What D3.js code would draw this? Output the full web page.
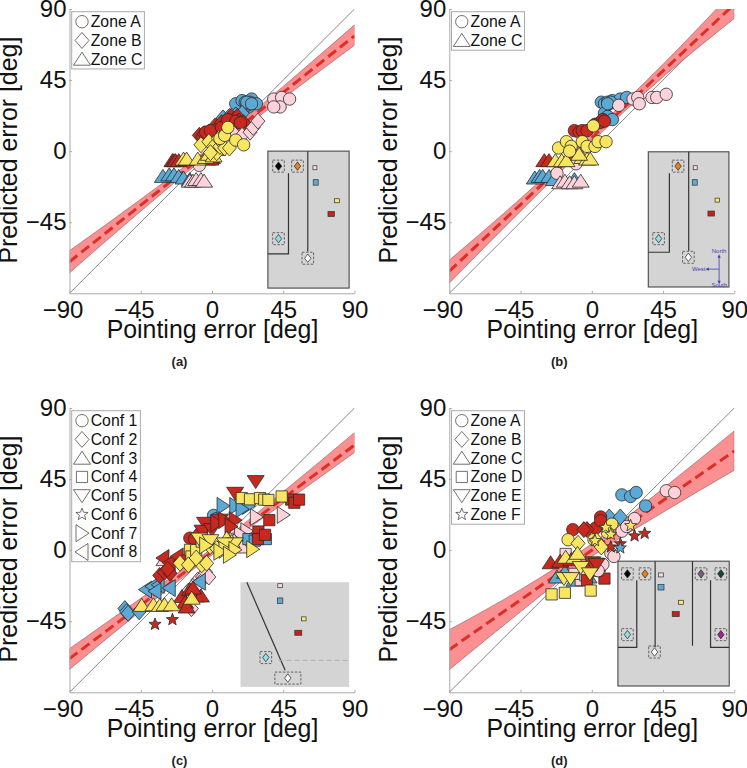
<!DOCTYPE html>
<html><head><meta charset="utf-8">
<script src="https://cdn.jsdelivr.net/npm/d3@7/dist/d3.min.js"></script>
<style>html,body{margin:0;padding:0;background:#fff}svg{display:block}text{font-family:"Liberation Sans",Arial,sans-serif}</style>
</head><body><div id="c"></div><script>
const xTickValues=[-90,-45,0,45,90], yTickValues=[-45,0,45,90];
const xLabel="Pointing error [deg]", yLabel="Predicted error [deg]";
const zoneNames3=["Zone A","Zone B","Zone C"], zoneNames2=["Zone A","Zone C"];
const confNames=["Conf 1","Conf 2","Conf 3","Conf 4","Conf 5","Conf 6","Conf 7","Conf 8"];
const zoneNames6=["Zone A","Zone B","Zone C","Zone D","Zone E","Zone F"];
const bandX=[-90,-45,0,45,90];

// Panel (a)
const aFitY=[-70,-34.2,1.5,37.2,73], aLow=[-77,-38,-0.5,33.5,67], aHigh=[-63,-30.5,3.5,41,80];
const aBlueCircle=[[15,30],[19,32],[25,33],[28,30],[23,28],[21,31],[24,30],[22,29],[23,30],[24,31],[22,31],[25,30]];
const aBlueDiamond=[[7,21],[11,22],[15,23],[19,24]];
const aBlueTri=[[-31,-16],[-27,-15],[-24,-15],[-21,-16],[-18,-17],[-14,-18]];
const aRedTri=[[-25,-6],[-24,-6],[-23,-6],[-21,-6],[-3,-5],[0,-4],[-1,-5]];
const aRedDiamond=[[-8,10],[-6,9],[-5,11],[-2,12],[2,16],[3,14],[6,18],[8,17],[11,19],[12,22],[14,20],[16,22],[17,19],[20,18]];
const aRedCircle=[[-4,12],[-1,13],[6,15],[10,20],[15,19],[18,18]];
const aPinkCircle=[[-8,-9],[39,33],[44,34],[49,33],[43,28],[39,28]];
const aPinkTri=[[-14,-19],[-12,-19],[-10,-18],[-7,-18],[-5,-19]];
const aPinkDiamond=[[14,11],[19,10],[24,12],[26,15],[29,19]];
const aYellowDiamond=[[-7,4],[-2,6],[1,3],[3,-1],[5,3],[8,2],[11,2],[-1,-1],[4,8]];
const aYellowTri=[[-18,-5],[-16,-5],[-9,-5],[-4,-4],[-2,-2],[1,-3],[3,1]];
const aYellowCircle=[[5,8],[8,10],[10,15],[15,7],[20,4]];

// Panel (b)
const bFitY=[-76,-33.8,8.5,50.8,93], bLow=[-83.5,-38,6,47,84], bHigh=[-69,-30,11.5,55,102];
const bBlueCircle=[[6,31],[8,30],[10,31],[13,32],[18,33],[22,34],[8,24],[10,22],[13,20],[11,30],[12,31],[10,30]];
const bBlueTri=[[-36,-17],[-33,-16],[-31,-16],[-27,-16],[-24,-18],[-11,-18]];
const bRedCircle=[[-11,13],[-8,12],[-6,13],[-3,13],[2,17],[5,18],[7,20],[8,19]];
const bRedTri=[[-30,-6],[-27,-6]];
const bPinkCircle=[[-22,-14],[-10,-8],[17,29],[26,33],[29,34],[30,30],[38,34],[41,34],[47,36]];
const bPinkTri=[[-20,-20],[-17,-19],[-14,-20],[-11,-20],[-7,-19]];
const bYellowCircle=[[-21,2],[-16,6],[-13,3],[-6,6],[-3,3],[2,3],[4,6],[9,6],[1,16],[-14,0]];
const bYellowTri=[[-23,-6],[-19,-6],[-16,-6],[-6,-4],[-3,-5],[-1,-5],[-8,-2]];

// Panel (c)
const cFitY=[-68.7,-34.8,-1,32.8,66.6], cLow=[-75.5,-38.5,-3,29.5,61.8], cHigh=[-62.4,-30.5,1,37,74.4];
const cBlueCircle=[[1,22],[3,20]];
const cBlueDiamond=[[-55,-37],[-54,-39],[-53,-40],[-46,-39]];
const cBlueLeft=[[-42,-25],[-38,-23],[-34,-22],[-36,-26],[-27,-24],[-8,-20]];
const cBlueRight=[[7,28],[15,28],[23,28],[19,26]];
const cBlueSquare=[[23,7],[27,6],[34,7]];
const cRedDiamond=[[-33,-16],[-30,-14],[-26.5,-14.6],[-28,-12]];
const cRedLeft=[[-31,-5],[-27,-8],[-22,-4],[-20,-7]];
const cRedCircle=[[-14,7.6],[-11,7],[-6.5,11.8],[-8,10]];
const cRedDown=[[27.6,43.4],[14.6,36],[-4.4,17],[5,19],[-6,12],[0,13]];
const cRedRight=[[3,17],[8,19],[14.6,19],[12,15]];
const cRedTri=[[-19,-29.4],[-17,-33],[-14,-25],[-10,-29],[-7,-29],[-16,-36],[-12,-24]];
const cRedSquare=[[29.3,11.8],[29,7],[33.5,9.7],[36.2,19],[50,32],[52,30],[55,32]];
const cRedStar=[[-36,-47],[-25,-44]];
const cPink=[[-15,-26],[-9,-19],[-6,-17],[-12,-23],[-4,-14],[-13,-37],[-8,-21],[-2,-17]];
const cPinkRight=[[28,21],[45,22.3],[22,12],[18,10],[15,6]];
const cPinkTri=[[10,3],[14,6],[19,2],[-30,-6]];
const cYellowSquare=[[18.8,33],[24,32.2],[30.3,33],[33,32],[35.6,31.8],[44,34],[-13.9,0.2],[-13,-4],[-10,0],[-6.5,5.4]];
const cYellowTri=[[-44.4,-35],[-37,-34.6],[-33,-35],[-30,-34.6],[-25.5,-34.6],[-12.8,-30.4],[12.4,5.4],[5,3.3],[9.3,7.6]];
const cYellowDiamond=[[-20.2,-8.3],[-14.9,-9.3],[-6.5,-9.3],[-3.4,-8.3],[-1.2,2.3],[-10,-5],[3,1]];
const cYellowDown=[[-8,7],[-1,6],[14.5,4],[8.2,4]];
const cYellowRight=[[25.7,0.6],[8.2,0.2],[14.5,0.2],[5,-1],[-4,3],[11,-3]];

// Panel (d)
const dFitY=[-63,-31.5,0,31.5,62.8], dLow=[-75.7,-39,-4,24,50.6], dHigh=[-50.4,-25,4,39,75.5];
const dBlueCircle=[[19,35],[24.5,34],[28,36.5],[34,28]];
const dBlueDiamond=[[11,21],[18,21],[7,16]];
const dBlueTri=[[-22,-17],[-17,-14],[-11,-19],[-2,-17]];
const dRedTri=[[-26,-8],[-20,-7],[-13,-6]];
const dRedSquare=[[8,-18],[-3,-19],[3,-13],[0,-9],[5,-10]];
const dRedCircle=[[5.6,21],[-12,13],[-4,13],[2.4,14],[5.6,18.6]];
const dRedDiamond=[[-3,13],[-5,13]];
const dRedDown=[[0.3,-8],[3,-9]];
const dRedStar=[[27,9],[33.4,10.6],[18,4],[12,2]];
const dBlueStar=[[18,1.4]];
const dPink=[[7,-9],[12,-2],[27,20],[19,12],[22,15],[47,37.6],[4,-13],[14,-4]];
const dPinkSquare=[[-16.5,-2.4],[-7,-19],[-11,-15],[-4,-16]];
const dPinkCircle2=[[52.3,36.5]];
const dYellowCircle=[[-15,6.6],[12.7,16.5],[1.4,6.6],[9.8,11.3]];
const dYellowDiamond=[[-8.7,4.3],[3,6],[6,2]];
const dYellowTri=[[-16.5,-4.5],[-11,-4.5],[-9,-2]];
const dYellowDown=[[-17.6,-18],[-13.4,-18],[-7,-11],[-1.2,-15]];
const dYellowSquare=[[-25.4,-28],[-17,-27],[-0.7,-25.6]];
const dYellowStar=[[24.5,15.5],[8.7,14.4],[12,10],[2,6]];

// Insets, in the same degree units as the axes
const insetA={room:[35.3,0,86.6,-86.7],walls:[[[60.5,0],[60.5,-63.6]],[[48.3,-14],[48.3,-65],[35.3,-65]]],
 diamonds:[[42,-9.5,"#000"],[54,-9.5,"#e8801a"],[42,-55.4,"#8fdfe6"],[60.5,-67.8,"#fff"]],
 squares:[[65,-10.5,"#fcd9df",4,4],[65.5,-19.8,"#5da9d6",5,5.5],[79,-31.4,"#f8e870",5,4],[75.3,-39.8,"#c8201a",6.5,5]]};
const insetB={room:[35.7,-0.4,86.6,-86],walls:[[[61.2,-0.4],[61.2,-63]],[[49,-14],[49,-64],[35.7,-64]]],
 diamonds:[[54.5,-9.5,"#e8801a"],[42.2,-55.4,"#8fdfe6"],[61,-67.2,"#fff"]],
 squares:[[65.3,-10.5,"#fcd9df",4,4],[65,-19.8,"#5da9d6",5,5.5],[79.3,-31,"#f8e870",4.5,4],[75.4,-39.5,"#c8201a",6.5,5]]};
const insetC={room:[18,-20.3,86.6,-86.6],walls:[[[22,-20.3],[46.2,-76]]],
 diamonds:[[34,-68,"#8fdfe6"],[47.9,-81,"#fff"]],
 squares:[[43,-22.5,"#fcd9df",4.5,4],[43,-32,"#5da9d6",5.5,5.5],[58,-43.5,"#f8e870",4.5,4],[54.5,-52.3,"#c8201a",7,5]]};
const insetD={room:[16.5,-7,86.8,-86],walls:[[[40,-7],[40,-61.5]],[[63.6,-7],[63.6,-60.5]],[[28.4,-19],[28.4,-61.5],[16.5,-61.5]],[[75,-19],[75,-61.5],[86.8,-61.5]]],
 diamonds:[[22.5,-15,"#000"],[33.6,-15,"#e8801a"],[69,-15,"#7f5a80"],[81.5,-15,"#12492f"],[22.5,-53.5,"#8fdfe6"],[81.5,-53.5,"#a6208a"],[39.6,-64.5,"#fff"]],
 squares:[[43.7,-15.7,"#fcd9df",5,4],[43.7,-23.5,"#5da9d6",6,5.5],[56.3,-33,"#f8e870",5,4],[53,-40.5,"#c8201a",7,5]]};

const colors={red:"#c8281e",blue:"#5da9d6",yellow:"#f9e660",pink:"#fcd3da"};
const poly=p=>({draw(c){c.moveTo(p[0][0],p[0][1]);p.slice(1).forEach(q=>c.lineTo(q[0],q[1]));c.closePath();}});
const star=(()=>{const p=[];for(let i=0;i<10;i++){const r=i%2?2.7:6.4,a=-Math.PI/2+i*Math.PI/5;p.push([r*Math.cos(a),r*Math.sin(a)]);}return poly(p);})();
const shapes={
 circle:{draw(c){c.moveTo(6.2,0);c.arc(0,0,6.2,0,2*Math.PI);}},
 diamond:poly([[0,-8],[7,0],[0,8],[-7,0]]),
 up:poly([[0,-7],[8.5,6],[-8.5,6]]),
 square:poly([[-5.6,-5.6],[5.6,-5.6],[5.6,5.6],[-5.6,5.6]]),
 down:poly([[0,7],[8.5,-6],[-8.5,-6]]),
 star,
 right:poly([[7,0],[-6,8.5],[-6,-8.5]]),
 left:poly([[-7,0],[6,8.5],[6,-8.5]])
};
const sym=s=>d3.symbol().type(shapes[s])();
const smallDiamond=poly([[0,-4.2],[3.2,0],[0,4.2],[-3.2,0]]);

const panels=[
 {cap:"(a)",ox:69.5,oy:9,fit:aFitY,low:aLow,high:aHigh,legend:["circle","diamond","up"],names:zoneNames3,lw:72.7,inset:insetA,series:[
  ["circle","blue",aBlueCircle],["diamond","blue",aBlueDiamond],["up","blue",aBlueTri],["up","pink",aPinkTri],["up","red",aRedTri],["diamond","red",aRedDiamond],["circle","red",aRedCircle],["circle","pink",aPinkCircle],["diamond","pink",aPinkDiamond],["up","yellow",aYellowTri],["diamond","yellow",aYellowDiamond],["circle","yellow",aYellowCircle]]},
 {cap:"(b)",ox:449.3,oy:9,fit:bFitY,low:bLow,high:bHigh,legend:["circle","up"],names:zoneNames2,lw:73,inset:insetB,compass:true,series:[
  ["circle","blue",bBlueCircle],["up","blue",bBlueTri],["up","red",bRedTri],["circle","red",bRedCircle],["circle","pink",bPinkCircle],["up","pink",bPinkTri],["up","yellow",bYellowTri],["circle","yellow",bYellowCircle]]},
 {cap:"(c)",ox:69.5,oy:408,fit:cFitY,low:cLow,high:cHigh,legend:["circle","diamond","up","square","down","star","right","left"],names:confNames,lw:68.7,inset:insetC,plainRoom:true,series:[
  ["diamond","pink",cPink],["right","pink",cPinkRight],["up","pink",cPinkTri],["circle","blue",cBlueCircle],["diamond","blue",cBlueDiamond],["left","blue",cBlueLeft],["right","blue",cBlueRight],["square","blue",cBlueSquare],["circle","red",cRedCircle],["left","red",cRedLeft],["diamond","red",cRedDiamond],["down","red",cRedDown],["right","red",cRedRight],["up","red",cRedTri],["square","red",cRedSquare],["star","red",cRedStar],["square","yellow",cYellowSquare],["up","yellow",cYellowTri],["diamond","yellow",cYellowDiamond],["down","yellow",cYellowDown],["right","yellow",cYellowRight]]},
 {cap:"(d)",ox:449.3,oy:408,fit:dFitY,low:dLow,high:dHigh,legend:["circle","diamond","up","square","down","star"],names:zoneNames6,lw:73,inset:insetD,series:[
  ["up","blue",dBlueTri],["square","pink",dPinkSquare],["square","red",dRedSquare],["circle","pink",dPink],["circle","pink",dPinkCircle2],["circle","blue",dBlueCircle],["diamond","blue",dBlueDiamond],["up","red",dRedTri],["circle","red",dRedCircle],["diamond","red",dRedDiamond],["down","red",dRedDown],["star","red",dRedStar],["star","blue",dBlueStar],["circle","yellow",dYellowCircle],["diamond","yellow",dYellowDiamond],["up","yellow",dYellowTri],["down","yellow",dYellowDown],["square","yellow",dYellowSquare],["star","yellow",dYellowStar]]}
];
const W=285,H=284.3;
const svg=d3.select("#c").append("svg").attr("width",747).attr("height",768);
const fmt=d=>d<0?"\u2212"+Math.abs(d):""+d;

panels.forEach((p,pi)=>{
 const x=d3.scaleLinear().domain([-90,90]).range([0,W]);
 const y=d3.scaleLinear().domain([-90,90]).range([H,0]);
 const g=svg.append("g").attr("transform",`translate(${p.ox},${p.oy})`);
 const cid="clip"+pi;
 g.append("clipPath").attr("id",cid).append("rect").attr("width",W).attr("height",H);
 const plot=g.append("g").attr("clip-path",`url(#${cid})`);
 plot.append("line").attr("x1",x(-90)).attr("y1",y(-90)).attr("x2",x(90)).attr("y2",y(90)).attr("stroke","#555").attr("stroke-width",0.7);
 const area=d3.area().x((d,i)=>x(bandX[i])).y0((d,i)=>y(p.low[i])).y1((d,i)=>y(p.high[i])).curve(d3.curveMonotoneX);
 plot.append("path").attr("d",area(bandX)).attr("fill","#fa9092").attr("stroke","#a86465").attr("stroke-width",0.7);

 const marks=g.append("g");
 p.series.forEach(([s,c,pts])=>{
  marks.selectAll(null).data(pts).join("path").attr("d",sym(s))
   .attr("transform",d=>`translate(${x(d[0])},${y(d[1])})`)
   .attr("fill",colors[c]).attr("stroke","#2a2a2a").attr("stroke-width",0.8);
 });
 const line=d3.line().x((d,i)=>x(bandX[i])).y(d=>y(d));
 plot.append("path").attr("d",line(p.fit)).attr("fill","none").attr("stroke","#dc2f26").attr("stroke-width",3).attr("stroke-dasharray","10 5");

 // axes
 const xa=g.append("g").attr("transform",`translate(0,${H})`).call(d3.axisBottom(x).tickValues(xTickValues).tickFormat(fmt).tickSizeInner(-2.5).tickSizeOuter(0).tickPadding(7.7));
 const ya=g.append("g").call(d3.axisLeft(y).tickValues(yTickValues).tickFormat(fmt).tickSizeInner(-2.5).tickSizeOuter(0).tickPadding(3));
 [xa,ya].forEach(a=>{a.selectAll("path,line").attr("stroke","#aaa");a.selectAll("text").attr("fill","#111").attr("font-size",24).attr("font-family",'"Liberation Sans",Arial,sans-serif');});
 xa.selectAll("text").attr("dx",d=>d<0?-7:0);
 g.append("text").attr("x",W/2+.5).attr("y",H+44.5).attr("text-anchor","middle").attr("font-size",24.9).attr("fill","#111").text(xLabel);
 g.append("text").attr("transform",`translate(${-52.5},${H/2-1}) rotate(-90)`).attr("text-anchor","middle").attr("font-size",24.9).attr("fill","#111").text(yLabel);
 g.append("text").attr("x",110).attr("y",H+72.5).attr("text-anchor","middle").attr("font-size",13).attr("font-weight","bold").attr("fill","#222").text(p.cap);

 // inset
 const ins=g.append("g"), I=p.inset;
 const r=I.room;
 ins.append("rect").attr("x",x(r[0])).attr("y",y(r[1])).attr("width",x(r[2])-x(r[0])).attr("height",y(r[3])-y(r[1]))
  .attr("fill","#d4d4d4").attr("stroke",p.plainRoom?"none":"#555").attr("stroke-width",1.2);
 const wall=d3.line().x(d=>x(d[0])).y(d=>y(d[1]));
 ins.selectAll(null).data(I.walls).join("path").attr("d",wall).attr("fill","none").attr("stroke","#333").attr("stroke-width",1.2);
 if(p.plainRoom){ins.append("path").attr("d",wall([[42,-69.8],[85.8,-69.8]])).attr("fill","none").attr("stroke","#a8a8a8").attr("stroke-dasharray","5 3").attr("stroke-width",0.9);}
 I.diamonds.forEach((d,i)=>{
  const wide=p.plainRoom&&i===1;
  ins.append("rect").attr("x",x(d[0])-(wide?13:5.8)).attr("y",y(d[1])-6).attr("width",wide?26:11.6).attr("height",12)
   .attr("fill","none").attr("stroke","#333").attr("stroke-width",0.7).attr("stroke-dasharray","2.5 1.5");
  ins.append("path").attr("d",d3.symbol().type(smallDiamond)()).attr("transform",`translate(${x(d[0])},${y(d[1])})`).attr("fill",d[2]).attr("stroke","#222").attr("stroke-width",0.7);
 });
 ins.selectAll(null).data(I.squares).join("rect")
  .attr("x",d=>x(d[0])-d[3]/2).attr("y",d=>y(d[1])-d[4]/2).attr("width",d=>d[3]).attr("height",d=>d[4])
  .attr("fill",d=>d[2]).attr("stroke","#333").attr("stroke-width",0.7);
 if(p.compass){
  const blue="#3f3fb0";
  const arrowUp=poly([[0,-2],[1.6,1.5],[-1.6,1.5]]);
  ins.append("path").attr("d",wall([[80.4,-66.5],[80.4,-83]])).attr("stroke",blue).attr("stroke-width",0.8).attr("fill","none");
  ins.append("path").attr("d",wall([[80.4,-74.7],[73,-74.7]])).attr("stroke",blue).attr("stroke-width",0.8).attr("fill","none");
  [[80.4,-66.5,0],[80.4,-83,180],[73,-74.7,-90]].forEach(a=>ins.append("path").attr("d",d3.symbol().type(arrowUp)()).attr("fill",blue).attr("transform",`translate(${x(a[0])},${y(a[1])}) rotate(${a[2]})`));
  [["North",80.4,-63.2],["West",67.5,-74.7],["South",80.5,-84.5]].forEach(t=>ins.append("text").attr("x",x(t[1])).attr("y",y(t[2])+2).attr("text-anchor","middle").attr("font-size",6).attr("fill",blue).text(t[0]));
 }

 // legend
 const rows=p.names.length, rowH=18.75;
 const lg=g.append("g").attr("transform","translate(2.2,2.7)");
 lg.append("rect").attr("width",p.lw).attr("height",rows*rowH+1).attr("fill","#fff").attr("stroke","#aaa").attr("stroke-width",1);
 p.names.forEach((n,i)=>{
  const yy=10+i*rowH;
  lg.append("path").attr("d",sym(p.legend[i])).attr("transform",`translate(10.3,${yy})`).attr("fill","#fff").attr("stroke","#333").attr("stroke-width",0.7);
  lg.append("text").attr("x",19).attr("y",yy+5.5).attr("font-size",15.8).attr("fill","#111").text(n);
 });
});
</script></body></html>
